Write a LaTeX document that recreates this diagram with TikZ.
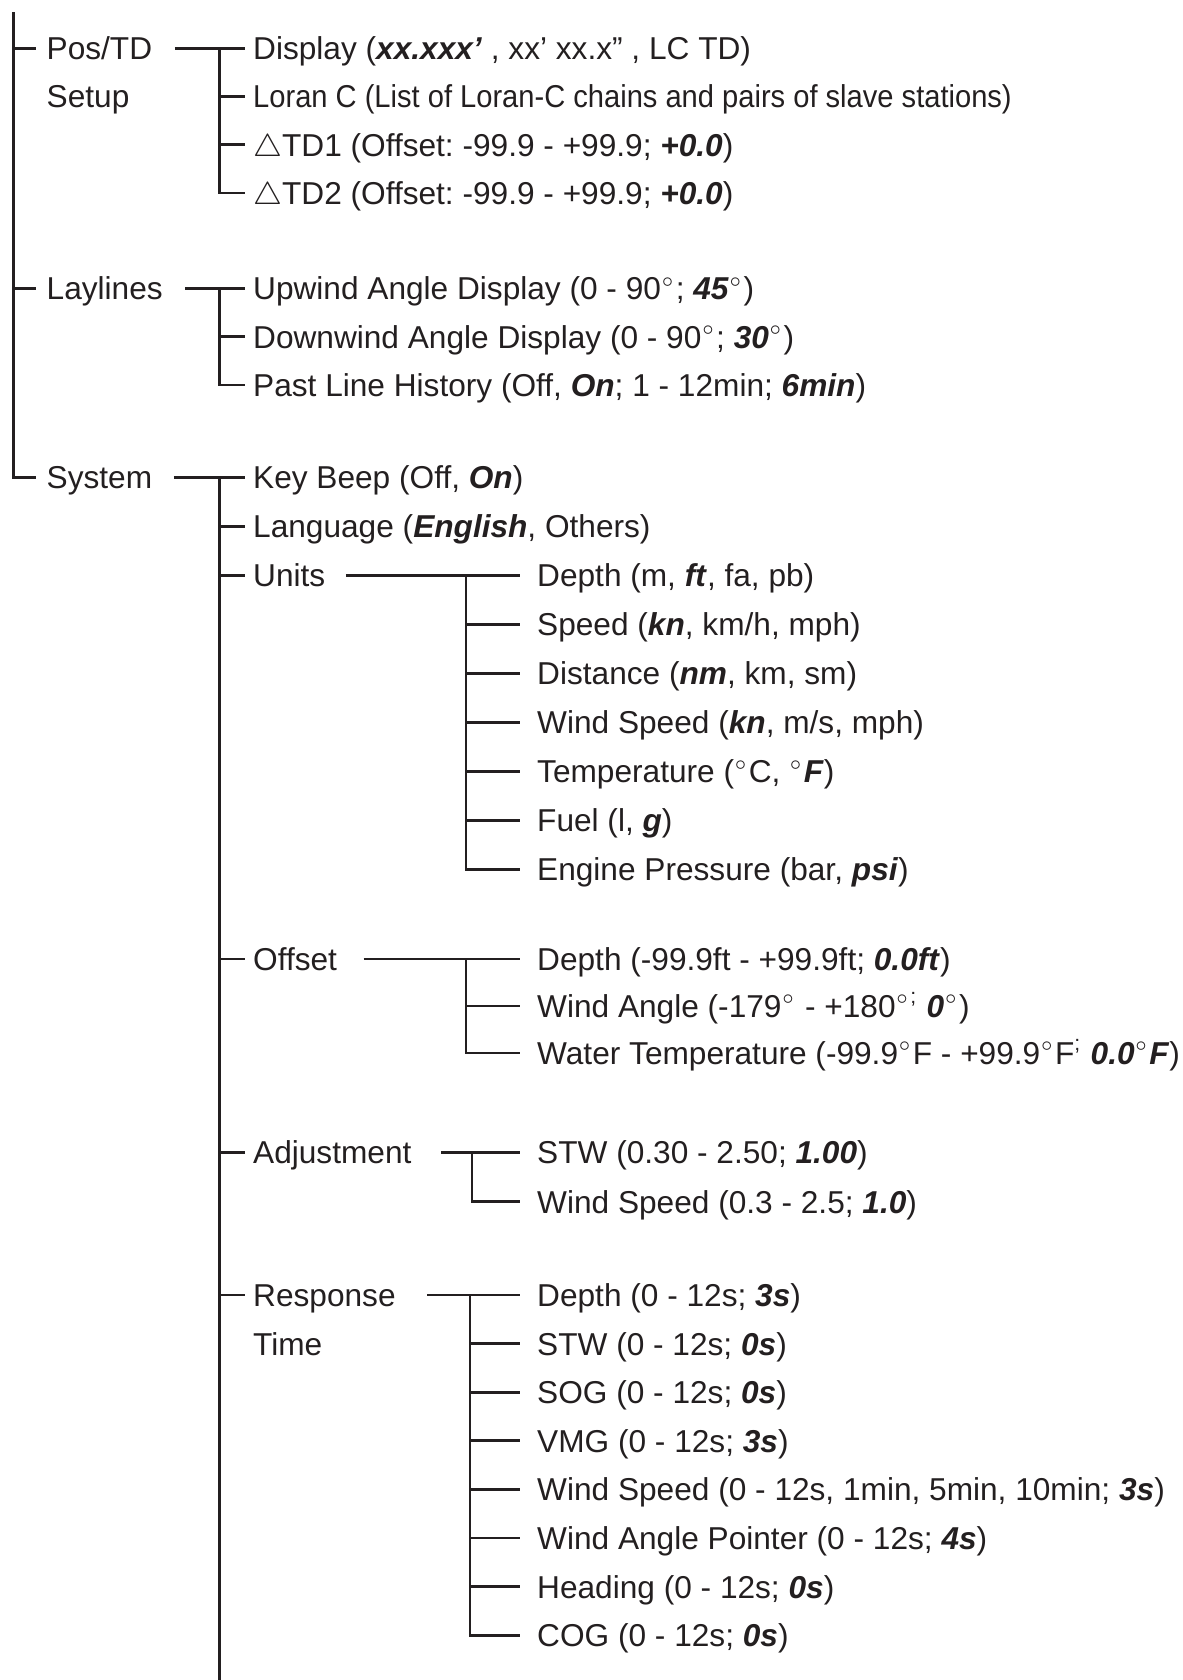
\documentclass[tikz,border=0pt]{standalone}
\usepackage{fontspec}
\setmainfont{Liberation Sans}
\usetikzlibrary{positioning}
\definecolor{inkdark}{HTML}{231F20}
\newcommand{\dflt}[1]{\textbf{\textit{#1}}}
\newcommand{\dg}{$^{\scriptscriptstyle\circ}$}
\frenchspacing
\tikzset{
  item/.style={anchor=west, inner sep=0pt, text height=2.28mm, text depth=0pt,
               font=\fontsize{9}{11}\selectfont, text=inkdark},
  branch/.style={draw=inkdark, line width=0.27mm},
}

\begin{document}
\begin{tikzpicture}[x=0.1mm, y=-0.1mm]
  \useasboundingbox (0,0) rectangle (1183,1680);
  \coordinate (root) at (13.3,12.3);
  \coordinate (barA) at (219.3,0);
  \coordinate (sysend) at (219.3,1680);
  \coordinate (barU) at (466,0);
  \coordinate (barJ) at (472,0);
  \coordinate (barR) at (470,0);
  \coordinate (colB) at (252.5,0);
  \coordinate (colC) at (536.5,0);

  % first level
  \node[item] at (46,48.3) (postd) {Pos/TD};
  \node[item, below=4.82mm of postd.west, anchor=west] (setup) {Setup};
  \node[item] at (46,288.3) (lay) {Laylines};
  \node[item] at (46,477.5) (sys) {System};

  % Pos/TD Setup
  \node[item] at (postd -| colB) (disp) {Display (\dflt{xx.xxx’} , xx’ xx.x” , LC TD)};
  \node[item, below=4.82mm of disp.west, anchor=west] (loran)
    {\scalebox{0.92}[1]{Loran C (List of Loran-C chains and pairs of slave stations)}};
  \node[item, below=4.82mm of loran.west, anchor=west] (tda) {$\triangle$TD1 (Offset: -99.9 - +99.9; \dflt{+0.0})};
  \node[item, below=4.82mm of tda.west, anchor=west] (tdb) {$\triangle$TD2 (Offset: -99.9 - +99.9; \dflt{+0.0})};

  % Laylines
  \node[item] at (lay -| colB) (up) {Upwind Angle Display (0 - 90\dg; \dflt{45}\dg)};
  \node[item, below=4.83mm of up.west, anchor=west] (down) {Downwind Angle Display (0 - 90\dg; \dflt{30}\dg)};
  \node[item, below=4.83mm of down.west, anchor=west] (past) {Past Line History (Off, \dflt{On}; 1 - 12min; \dflt{6min})};

  % System
  \node[item] at (sys -| colB) (beep) {Key Beep (Off, \dflt{On})};
  \node[item, below=4.87mm of beep.west, anchor=west] (lang) {Language (\dflt{English}, Others)};
  \node[item, below=4.9mm of lang.west, anchor=west] (units) {Units};
  \node[item] at (252.5,959) (offs) {Offset};
  \node[item] at (252.5,1152.3) (adj) {Adjustment};
  \node[item] at (252.5,1295) (resp) {Response};
  \node[item, below=4.86mm of resp.west, anchor=west] (rtime) {Time};

  % Units
  \node[item] at (units -| colC) (udepth) {Depth (m, \dflt{ft}, fa, pb)};
  \node[item, below=4.9mm of udepth.west, anchor=west] (uspeed) {Speed (\dflt{kn}, km/h, mph)};
  \node[item, below=4.9mm of uspeed.west, anchor=west] (udist) {Distance (\dflt{nm}, km, sm)};
  \node[item, below=4.9mm of udist.west, anchor=west] (uwind) {Wind Speed (\dflt{kn}, m/s, mph)};
  \node[item, below=4.9mm of uwind.west, anchor=west] (utemp) {Temperature (\dg C, \dg\dflt{F})};
  \node[item, below=4.9mm of utemp.west, anchor=west] (ufuel) {Fuel (l, \dflt{g})};
  \node[item, below=4.9mm of ufuel.west, anchor=west] (ueng) {Engine Pressure (bar, \dflt{psi})};

  % Offset
  \node[item] at (offs -| colC) (odepth) {Depth (-99.9ft - +99.9ft; \dflt{0.0ft})};
  \node[item, below=4.7mm of odepth.west, anchor=west] (owind) {Wind Angle (-179\dg{} - +180\dg\textsuperscript{;} \dflt{0}\dg)};
  \node[item, below=4.7mm of owind.west, anchor=west] (owater) {Water Temperature (-99.9\dg F - +99.9\dg F\textsuperscript{;} \dflt{0.0}\dg\dflt{F})};

  % Adjustment
  \node[item] at (adj -| colC) (astw) {STW (0.30 - 2.50; \dflt{1.00})};
  \node[item, below=4.94mm of astw.west, anchor=west] (awind) {Wind Speed (0.3 - 2.5; \dflt{1.0})};

  % Response Time
  \node[item] at (resp -| colC) (rdepth) {Depth (0 - 12s; \dflt{3s})};
  \node[item, below=4.86mm of rdepth.west, anchor=west] (rstw) {STW (0 - 12s; \dflt{0s})};
  \node[item, below=4.86mm of rstw.west, anchor=west] (rsog) {SOG (0 - 12s; \dflt{0s})};
  \node[item, below=4.86mm of rsog.west, anchor=west] (rvmg) {VMG (0 - 12s; \dflt{3s})};
  \node[item, below=4.86mm of rvmg.west, anchor=west] (rwind) {Wind Speed (0 - 12s, 1min, 5min, 10min; \dflt{3s})};
  \node[item, below=4.86mm of rwind.west, anchor=west] (rpoint) {Wind Angle Pointer (0 - 12s; \dflt{4s})};
  \node[item, below=4.86mm of rpoint.west, anchor=west] (rhead) {Heading (0 - 12s; \dflt{0s})};
  \node[item, below=4.86mm of rhead.west, anchor=west] (rcog) {COG (0 - 12s; \dflt{0s})};

  % trunk
  \draw[branch] (root) |- ([xshift=-1mm]sys.west);
  \foreach \n in {postd,lay}
    \draw[branch] (\n.west -| root) -- ([xshift=-1mm]\n.west);

  % second level
  \draw[branch] ([xshift=2.2mm]postd.east) -- ([xshift=-0.75mm]disp.west);
  \draw[branch] (disp.west -| barA) |- ([xshift=-0.75mm]tdb.west);
  \draw[branch] ([xshift=2.2mm]lay.east) -- ([xshift=-0.75mm]up.west);
  \draw[branch] (up.west -| barA) |- ([xshift=-0.75mm]past.west);
  \draw[branch] ([xshift=2.1mm]sys.east) -- ([xshift=-0.75mm]beep.west);
  \draw[branch] (beep.west -| barA) -- (sysend);
  \foreach \n in {loran,tda,down,lang,units,offs,adj,resp}
    \draw[branch] (\n.west -| barA) -- ([xshift=-0.75mm]\n.west);

  % third level
  \draw[branch] ([xshift=2mm]units.east) -- ([xshift=-1.65mm]udepth.west);
  \draw[branch] (udepth.west -| barU) |- ([xshift=-1.65mm]ueng.west);
  \foreach \n in {uspeed,udist,uwind,utemp,ufuel}
    \draw[branch] (\n.west -| barU) -- ([xshift=-1.65mm]\n.west);

  \draw[branch] ([xshift=2.6mm]offs.east) -- ([xshift=-1.65mm]odepth.west);
  \draw[branch] (odepth.west -| barU) |- ([xshift=-1.65mm]owater.west);
  \draw[branch] (owind.west -| barU) -- ([xshift=-1.65mm]owind.west);

  \draw[branch] ([xshift=2.9mm]adj.east) -- ([xshift=-1.65mm]astw.west);
  \draw[branch] (astw.west -| barJ) |- ([xshift=-1.65mm]awind.west);

  \draw[branch] ([xshift=3.1mm]resp.east) -- ([xshift=-1.65mm]rdepth.west);
  \draw[branch] (rdepth.west -| barR) |- ([xshift=-1.65mm]rcog.west);
  \foreach \n in {rstw,rsog,rvmg,rwind,rpoint,rhead}
    \draw[branch] (\n.west -| barR) -- ([xshift=-1.65mm]\n.west);
\end{tikzpicture}
\end{document}
